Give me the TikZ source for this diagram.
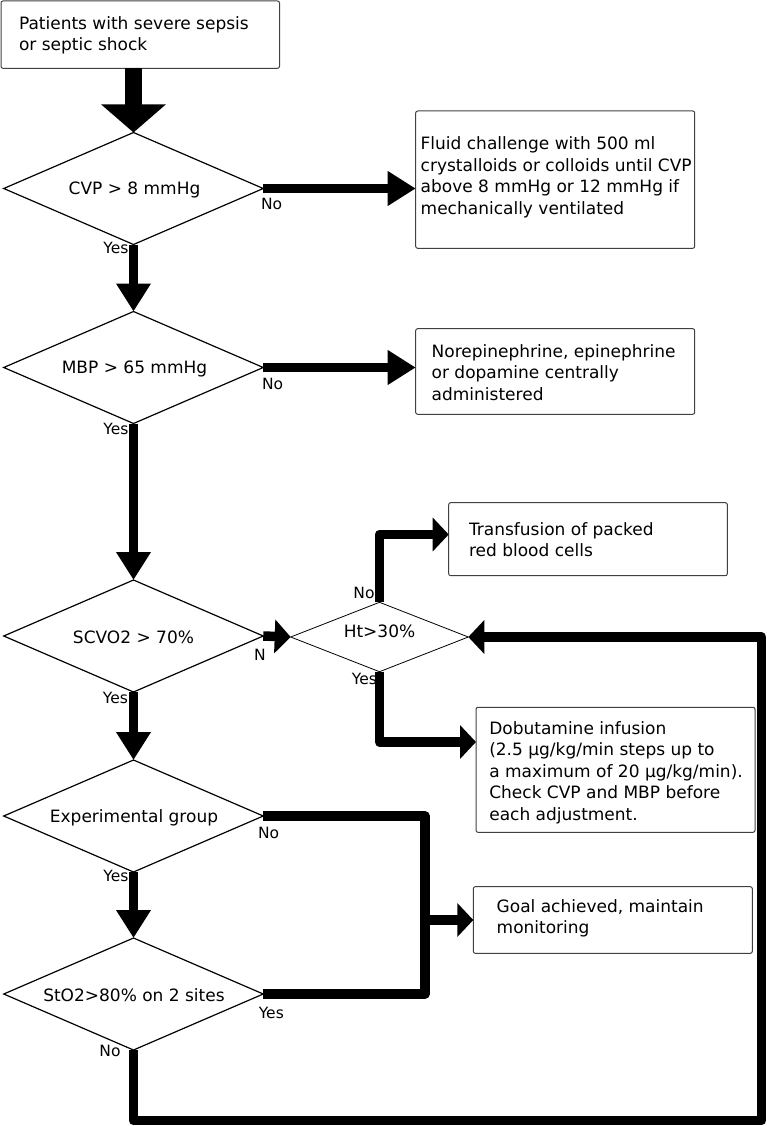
\documentclass[tikz,border=0pt]{standalone}
\usepackage{fontspec}
\setmainfont{DejaVu Sans}
\usetikzlibrary{arrows.meta,shapes.geometric,calc}
\newcommand\mlines[1]{\begin{tabular}[t]{@{}l@{}}#1\end{tabular}}
\begin{document}
\begin{tikzpicture}[x=1pt,y=-1pt,
  box/.style={draw=black!75, line width=1pt, rounded corners=2pt, inner sep=0pt, outer sep=0pt},
  dia/.style={diamond, draw, line width=1.2pt, inner sep=0pt, outer sep=0pt, aspect=2.3,
              minimum width=259.5pt, minimum height=112pt},
  txt/.style={inner sep=0pt, outer sep=0pt, font=\fontsize{17}{21.5}\selectfont, anchor=base west},
  dtxt/.style={inner sep=0pt, outer sep=0pt, font=\fontsize{17}{21.5}\selectfont, anchor=base},
  lbl/.style={inner sep=0pt, outer sep=0pt, font=\fontsize{15.5}{18}\selectfont},
  conn/.style={line width=9.5pt, line join=round},
  arrL/.style={conn, -{Triangle[length=28pt,width=33pt]}},
  arrS/.style={conn, -{Triangle[length=16pt,width=33pt]}},
]
\useasboundingbox (0,0) rectangle (767,1126);

% boxes
\node[box, minimum width=278.5pt, minimum height=67.3pt] (start) at (140.25,34.65) {};
\node[box, minimum width=279pt, minimum height=137.3pt] (fluid) at (555.2,179.65) {};
\node[box, minimum width=279pt, minimum height=85.6pt] (nore) at (555.2,371.5) {};
\node[box, minimum width=278.6pt, minimum height=73pt] (trans) at (588,539.2) {};
\node[box, minimum width=279pt, minimum height=125pt] (dob) at (615.5,769.8) {};
\node[box, minimum width=279pt, minimum height=66.6pt] (goal) at (612.8,920) {};

% box texts
\node[txt] (starttxt) at (19,29.3) {\mlines{Patients with severe sepsis\\or septic shock}};
\node[txt] (fluidtxt) at (420.7,150) {\mlines{Fluid challenge with 500 ml\\crystalloids or colloids until CVP\\above 8 mmHg or 12 mmHg if\\mechanically ventilated}};
\node[txt] (noretxt) at (431.7,357) {\mlines{Norepinephrine, epinephrine\\or dopamine centrally\\administered}};
\node[txt] (transtxt) at (469,535) {\mlines{Transfusion of packed\\red blood cells}};
\node[txt] (dobtxt) at (489.3,734) {\mlines{Dobutamine infusion\\(2.5 µg/kg/min steps up to\\a maximum of 20 µg/kg/min).\\Check CVP and MBP before\\each adjustment.}};
\node[txt] (goaltxt) at (496.7,912.3) {\mlines{Goal achieved, maintain\\monitoring}};

% diamonds
\node[dia] (d1) at (133.5,188.5) {};
\node[dia] (d2) at (133.5,367.5) {};
\node[dia] (d3) at (133.5,636) {};
\node[dia] (d4) at (133.5,816) {};
\node[dia] (d5) at (133.5,994) {};
\node[diamond, draw, line width=0.8pt, inner sep=0pt, outer sep=0pt, aspect=2.56,
      minimum width=177.6pt, minimum height=69.4pt] (ht) at (379.5,637) {};

% diamond texts
\node[dtxt] (d1txt) at (134.5,194.3) {CVP > 8 mmHg};
\node[dtxt] (d2txt) at (134.5,373.5) {MBP > 65 mmHg};
\node[dtxt] (d3txt) at (133.5,643) {SCVO2 > 70\%};
\node[dtxt] (d4txt) at (134,822) {Experimental group};
\node[dtxt] (d5txt) at (134,1001.5) {StO2>80\% on 2 sites};
\node[dtxt] (httxt) at (379.5,637) {Ht>30\%};

% branch labels
\node[lbl, anchor=base west] (no1) at (261,209.3) {No};
\node[lbl, anchor=base east] (yes1) at (128.5,253.3) {Yes};
\node[lbl, anchor=base west] (no2) at (262,389) {No};
\node[lbl, anchor=base east] (yes2) at (128.5,434) {Yes};
\node[lbl, anchor=base west] (n3) at (254,660) {N};
\node[lbl, anchor=base east] (yes3) at (128,703.3) {Yes};
\node[lbl, anchor=base east] (noht) at (374.5,598) {No};
\node[lbl, anchor=base east] (yesht) at (377,684) {Yes};
\node[lbl, anchor=base west] (no4) at (258,838.3) {No};
\node[lbl, anchor=base east] (yes4) at (128.4,881.7) {Yes};
\node[lbl, anchor=base west] (yes5) at (258.8,1018.3) {Yes};
\node[lbl, anchor=base east] (no5) at (120.5,1056.7) {No};

% connectors
\draw[line width=17pt, -{Triangle[length=28pt,width=63pt]}] (start.south -| d1.north) -- (d1.north);
\draw[arrL] (d1.east) -- (d1.east -| fluid.west);
\draw[arrL] (d1.south) -- (d2.north);
\draw[arrL] (d2.east) -- (d2.east -| nore.west);
\draw[arrL] (d2.south) -- (d3.north);
\draw[arrS] (d3.east) -- (ht.west);
\draw[arrS] (ht.north) |- ([yshift=4.7pt]trans.west);
\draw[arrS] (ht.south) |- ([yshift=27.8pt]dob.west);
\draw[arrL] (d3.south) -- (d4.north);
\draw[arrL] (d4.south) -- (d5.north);
\coordinate (mB) at (425,994);
\draw[conn] (d4.east) -| (mB) -- (d5.east);
\draw[arrS] (goal.west -| mB) -- (goal.west);
\coordinate (lBR) at (761.5,1120.5);
\draw[arrS] (d5.south) |- (lBR) |- (ht.east);
\end{tikzpicture}
\end{document}
